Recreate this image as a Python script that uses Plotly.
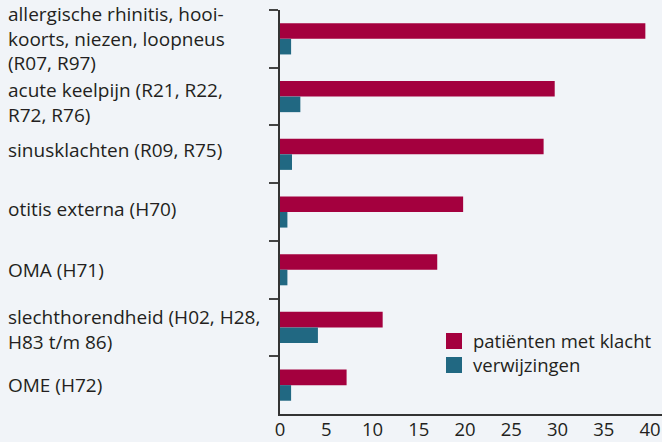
import plotly.graph_objects as go

categories = [
    "allergische rhinitis, hooi-<br>koorts, niezen, loopneus<br>(R07, R97)",
    "acute keelpijn (R21, R22,<br>R72, R76)",
    "sinusklachten (R09, R75)",
    "otitis externa (H70)",
    "OMA (H71)",
    "slechthorendheid (H02, H28,<br>H83 t/m 86)",
    "OME (H72)",
]
patienten = [39.5, 29.7, 28.5, 19.8, 17.0, 11.1, 7.2]
verwijzingen = [1.2, 2.2, 1.3, 0.8, 0.8, 4.1, 1.2]
series_names = ["patiënten met klacht", "verwijzingen"]
x_ticks = [0, 5, 10, 15, 20, 25, 30, 35, 40]

RED = "#a4003e"
TEAL = "#216882"
COLORS = [RED, TEAL]
BG = "#f1f4f8"
TXT = "#231f20"
FONT = "Open Sans"
FS = 19

fig = go.Figure()
for name, vals, col in zip(series_names, [patienten, verwijzingen], COLORS):
    fig.add_trace(go.Bar(y=categories, x=vals, orientation="h", name=name,
                         marker=dict(color=col, line=dict(width=0)), showlegend=False))

L, R, T, B = 280, 0, 10, 28
W, H = 662, 442
plot_w = W - L - R
plot_h = H - T - B

def px_x(px):
    return (px - L) / plot_w

def px_y(py):
    return 1 - (py - T) / plot_h

label_shift = {1: 6, 2: -4, 3: -3, 5: 2}
for i, c in enumerate(categories):
    fig.add_annotation(x=px_x(6), xref="paper", y=c, yref="y", text=c,
                       showarrow=False, xanchor="left", align="left",
                       yshift=-label_shift.get(i, 0),
                       font=dict(family=FONT, size=FS, color=TXT))

# legend drawn manually: 16x16 swatches
for k, (name, col) in enumerate(zip(series_names, COLORS)):
    top = 333 + 24 * k
    fig.add_shape(type="rect", xref="paper", yref="paper",
                  x0=px_x(446), x1=px_x(462), y0=px_y(top + 16), y1=px_y(top),
                  fillcolor=col, line=dict(width=0))
    fig.add_annotation(x=px_x(471), xref="paper", y=px_y(top + 7), yref="paper",
                       text=name, showarrow=False, xanchor="left", yanchor="middle",
                       font=dict(family=FONT, size=18.5, color=TXT))

fig.update_layout(
    width=W, height=H,
    margin=dict(l=L, r=R, t=T, b=B, autoexpand=False),
    paper_bgcolor=BG, plot_bgcolor=BG,
    barmode="group", bargap=0.46, bargroupgap=0,
    font=dict(family=FONT, size=FS, color=TXT),
    showlegend=False,
    xaxis=dict(range=[0, 41.3], tickvals=x_ticks, showgrid=False, zeroline=False,
               showline=True, linecolor="#333333", linewidth=1.5, ticks="",
               ticklabelstandoff=-2,
               automargin=False, tickfont=dict(family=FONT, size=18.5, color=TXT)),
    yaxis=dict(range=[len(categories) - 0.5, -0.5], autorange=False,
               showticklabels=False, showgrid=False, zeroline=False,
               showline=True, linecolor="#333333", linewidth=1.5, automargin=False,
               ticks="outside", tickson="boundaries", ticklen=9, tickwidth=1.5,
               tickcolor="#444444"),
)

fig.write_html("out.html", config={"displayModeBar": False},
               post_script="document.body.style.margin='0';document.body.style.overflow='hidden';")
